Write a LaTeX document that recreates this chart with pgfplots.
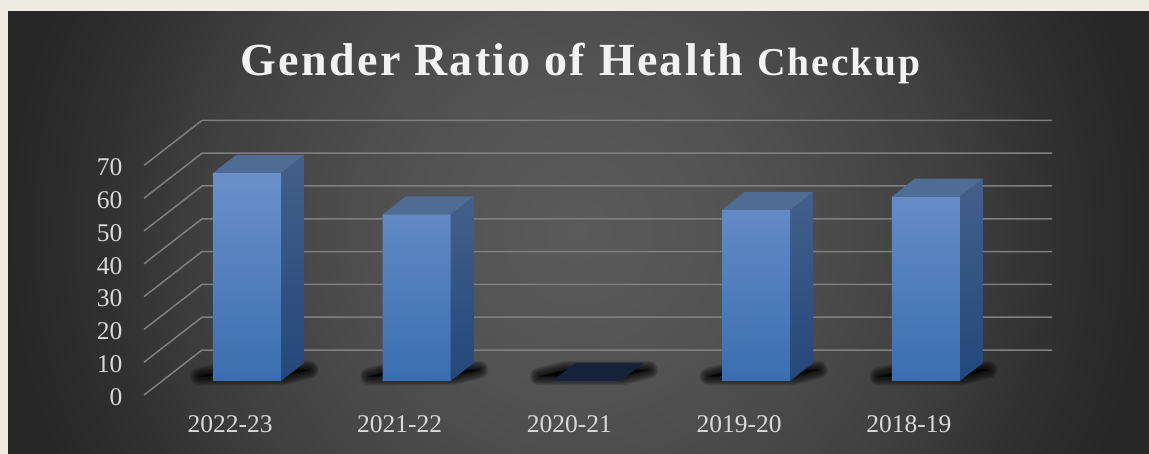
\documentclass[border=0pt]{standalone}
\usepackage{pgfplots}
\pgfplotsset{compat=1.18}
\usepackage{fontspec}
\setmainfont{Liberation Serif}
\newfontfamily\titlefont[LetterSpace=5.0]{Liberation Serif}
\definecolor{page}{HTML}{EEECE1}
\definecolor{bgout}{HTML}{272727}
\definecolor{bga}{HTML}{5A5A5A}
\definecolor{bgb}{HTML}{525252}
\definecolor{bgc}{HTML}{3F3F3F}
\definecolor{bgd}{HTML}{303030}
\definecolor{gridc}{HTML}{7F7F7F}
\definecolor{ftop}{HTML}{6B90C9}
\definecolor{fmid}{HTML}{4B81C3}
\definecolor{fbot}{HTML}{3A6EB0}
\definecolor{stop}{HTML}{43608A}
\definecolor{sbot}{HTML}{24477A}
\definecolor{ttop}{HTML}{4F6C94}
\definecolor{flat}{HTML}{14233A}
\pgfdeclareradialshading{panelglow}{\pgfpointorigin}{%
  color(0bp)=(bga);
  color(7.5bp)=(bgb);
  color(16.5bp)=(bgc);
  color(21bp)=(bgd);
  color(25bp)=(bgout);
  color(50bp)=(bgout)}
% one grid level: value #1
\newcommand\gridlevel[1]{%
  \pgfmathsetmacro\va{#1-4.27}\pgfmathsetmacro\vb{#1+9.45}%
  \addplot[gridc,line width=1.5pt,forget plot] coordinates {(-0.607,\va) (-0.265,\vb) (4.744,\vb)};
}
% floor shadow for bar at position #1
\newcommand\floorshadow[1]{%
  \pgfmathsetmacro\xa{#1-0.28}\pgfmathsetmacro\xb{#1+0.21}%
  \pgfmathsetmacro\xc{#1+0.37}\pgfmathsetmacro\xd{#1-0.12}%
  \foreach \w in {18,16,14,12,10,8,6,4,2}{%
    \edef\temp{\noexpand\addplot[draw=black,fill=black,line width=\w pt,line join=round,opacity=0.12,forget plot] coordinates {(\xa,1.4) (\xb,1.4) (\xc,3.4) (\xd,3.4)} -- cycle;}\temp
  }%
}
% side and top faces of bar at position #1 with value #2
\newcommand\barfaces[2]{%
  \pgfmathsetmacro\xr{#1+0.2003}\pgfmathsetmacro\xs{#1+0.3358}%
  \pgfmathsetmacro\xl{#1-0.2003}\pgfmathsetmacro\xt{#1-0.0648}%
  \pgfmathsetmacro\yt{#2+5.49}%
  \addplot[draw=none,top color=stop,bottom color=sbot,forget plot] coordinates {(\xr,0) (\xs,5.49) (\xs,\yt) (\xr,#2)} -- cycle;
  \addplot[draw=none,fill=ttop,forget plot] coordinates {(\xl,#2) (\xr,#2) (\xs,\yt) (\xt,\yt)} -- cycle;
}
\begin{document}
\begin{tikzpicture}
\useasboundingbox (0,0) rectangle (1149pt,453pt);
\fill[bgout] (-3pt,-3pt) rectangle (1152pt,456pt);
\shade[shading=panelglow] (578pt,223pt) circle (570pt);
\fill[page] (-3pt,442pt) rectangle (1152pt,456pt);
\fill[page] (-3pt,-3pt) rectangle (8pt,456pt);
\begin{axis}[
  at={(128pt,58pt)},anchor=south west,
  scale only axis,width=924pt,height=275pt,
  xmin=-0.7012,xmax=4.7437,ymin=-4.268,ymax=79.57,
  axis line style={draw=none},
  major tick length=0pt,
  clip=false,
  xtick={-0.1,0.9,1.9,2.9,3.9},
  xticklabels={2022-23,2021-22,2020-21,2019-20,2018-19},
  ytick={-4.27,5.73,15.73,25.73,35.73,45.73,55.73,65.73},
  yticklabels={0,10,20,30,40,50,60,70},
  tick label style={font=\fontsize{25.5}{29}\selectfont,text=white!85!black},
  xticklabel style={yshift=-17pt},
  yticklabel style={anchor=east,xshift=-2pt,yshift=-2pt},
  title={\titlefont\bfseries\fontsize{46}{52}\selectfont Gender Ratio of Health {\fontsize{39.5}{52}\selectfont Checkup}},
  title style={at={(0.49,1)},anchor=south,yshift=27pt,text=white!95!black},
]
\gridlevel{0}\gridlevel{10}\gridlevel{20}\gridlevel{30}
\gridlevel{40}\gridlevel{50}\gridlevel{60}\gridlevel{70}
\floorshadow{0}\floorshadow{1}\floorshadow{2}\floorshadow{3}\floorshadow{4}
\barfaces{0}{63.4}
\barfaces{1}{50.8}
\addplot[draw=none,fill=flat,forget plot] coordinates {(1.7997,0) (2.2003,0) (2.3358,5.49) (1.9352,5.49)} -- cycle;
\barfaces{3}{52.2}
\barfaces{4}{56.2}
\addplot[ybar,bar width=68pt,draw=none,top color=ftop,middle color=fmid,bottom color=fbot]
  coordinates {(0,63.4) (1,50.8) (2,0) (3,52.2) (4,56.2)};
\end{axis}
\end{tikzpicture}
\end{document}
